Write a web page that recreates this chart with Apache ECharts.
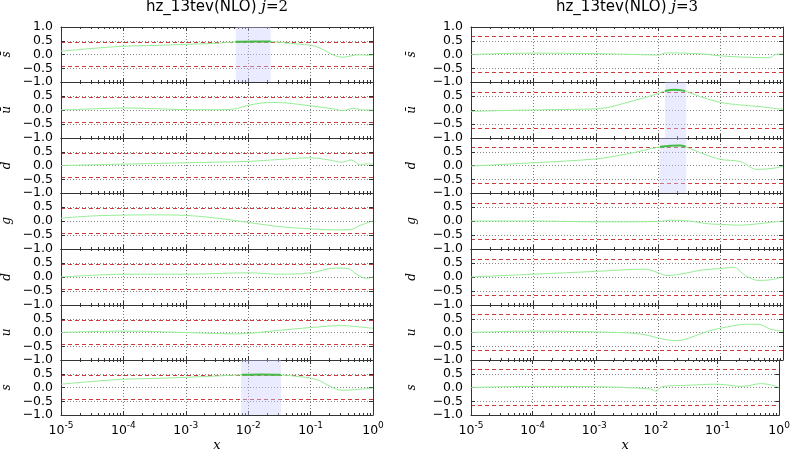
<!DOCTYPE html>
<html><head><meta charset="utf-8">
<script src="https://cdn.jsdelivr.net/npm/echarts@6/dist/echarts.min.js"></script>
<style>html,body{margin:0;padding:0;background:#fff}#c{width:793px;height:453px}</style>
</head><body><div id="c"></div>
<script>
// ---- data (x stored as log10(x)) ----
const flavours = ['s\u0304', 'u\u0304', 'd', 'g', 'd', 'u', 's'];
const yTickValues = [-1, -0.5, 0, 0.5, 1];
const xDecades = [-5, -4, -3, -2, -1, 0];
const jValues = ['2', '3'];
const bandJ2 = 0.44;
const bandJ3 = 0.65;

const sbarJ2 = [[-5,0.12],[-4.5,0.22],[-4,0.30],[-3.5,0.33],[-3,0.37],[-2.5,0.41],[-2.2,0.46],[-1.9,0.47],[-1.64,0.47],[-1.4,0.42],[-1.2,0.38],[-1.0,0.34],[-0.85,0.24],[-0.72,0.08],[-0.6,-0.05],[-0.48,-0.1],[-0.38,-0.06],[-0.28,-0.02],[-0.18,-0.01],[-0.08,-0.03],[0,-0.02]];
const ubarJ2 = [[-5,0.0],[-4.5,0.04],[-4,0.07],[-3.5,0.05],[-3,0.01],[-2.5,0.01],[-2.24,0.03],[-1.97,0.18],[-1.65,0.27],[-1.38,0.25],[-1.01,0.15],[-0.64,0.04],[-0.48,-0.02],[-0.32,0.06],[-0.16,0.0],[0,0.0]];
const dbarJ2 = [[-5,0.0],[-4,0.05],[-3,0.1],[-2,0.15],[-1.5,0.22],[-1,0.28],[-0.7,0.2],[-0.5,0.12],[-0.35,0.2],[-0.2,0.02],[-0.1,0.06],[0,0.05]];
const gJ2 = [[-5,0.1],[-4.5,0.18],[-4,0.21],[-3.5,0.22],[-3,0.2],[-2.5,0.1],[-2,-0.05],[-1.5,-0.2],[-1,-0.28],[-0.6,-0.32],[-0.35,-0.3],[-0.2,-0.15],[0,0.0]];
const dJ2 = [[-5,0.0],[-4.5,0.06],[-4,0.1],[-3,0.1],[-2,0.15],[-1.5,0.1],[-1,0.15],[-0.6,0.32],[-0.4,0.3],[-0.25,0.08],[-0.1,-0.05],[0,0.0]];
const uJ2 = [[-5,0.0],[-4,0.05],[-3,0.0],[-2.2,-0.05],[-1.5,0.08],[-1,0.18],[-0.5,0.25],[-0.2,0.2],[0,0.15]];
const sJ2 = [[-5,0.12],[-4.5,0.22],[-4,0.30],[-3.5,0.33],[-3,0.37],[-2.5,0.42],[-2.1,0.46],[-1.8,0.47],[-1.48,0.46],[-1.2,0.4],[-1.0,0.34],[-0.85,0.24],[-0.72,0.08],[-0.6,-0.05],[-0.48,-0.1],[-0.3,-0.08],[-0.15,-0.05],[0,-0.02]];

const sbarJ3 = [[-5,0],[-4,0.05],[-3,0.03],[-2.2,-0.01],[-2,-0.02],[-1.87,0.06],[-1.6,0.05],[-1.3,0.02],[-1,-0.05],[-0.7,-0.09],[-0.4,-0.11],[-0.22,-0.12],[-0.12,0.0],[0,0.02]];
const ubarJ3 = [[-5,-0.05],[-4.5,-0.02],[-4,0.0],[-3.5,0.02],[-2.93,0.05],[-2.45,0.3],[-2.2,0.45],[-1.99,0.6],[-1.89,0.68],[-1.75,0.72],[-1.57,0.68],[-1.33,0.48],[-1.0,0.27],[-0.68,0.18],[-0.36,0.12],[-0.15,0.06],[0,0.03]];
const dbarJ3 = [[-5,-0.02],[-4,0.1],[-3,0.24],[-2.5,0.42],[-1.97,0.68],[-1.8,0.72],[-1.65,0.73],[-1.56,0.68],[-1.25,0.4],[-1.0,0.22],[-0.68,0.14],[-0.42,-0.14],[-0.15,-0.1],[0,-0.02]];
const gJ3 = [[-5,0],[-4,0.0],[-3,-0.03],[-2,-0.02],[-1.8,0.03],[-1.5,0.0],[-1.2,-0.1],[-1,-0.12],[-0.7,-0.15],[-0.4,-0.1],[-0.2,-0.05],[0,0]];
const dJ3 = [[-5,0],[-4,0.1],[-3,0.2],[-2.2,0.28],[-2,0.15],[-1.85,0.05],[-1.6,0.12],[-1.3,0.25],[-1,0.3],[-0.8,0.35],[-0.6,0.05],[-0.4,-0.12],[-0.2,-0.1],[0,0]];
const uJ3 = [[-5,0],[-4,0.05],[-3,0.02],[-2.3,-0.05],[-1.9,-0.25],[-1.7,-0.3],[-1.5,-0.2],[-1.2,0.05],[-0.9,0.2],[-0.6,0.3],[-0.4,0.3],[-0.2,0.12],[0,0.05]];
const sJ3 = [[-5,0],[-4,0.04],[-3,0.03],[-2.1,-0.05],[-2.0,-0.13],[-1.9,0.03],[-1.5,0.08],[-1,0.12],[-0.6,0.04],[-0.3,0.14],[-0.15,0.1],[0,0]];

const shadeJ2 = [[-2.2,-1.64], null, null, null, null, null, [-2.115,-1.474]];
const shadeJ3 = [null, [-1.89,-1.55], [-1.98,-1.55], null, null, null, null];

// ---- layout ----
const TOP = 26.7, H = 55.57, W = 312;
const minorTicks = [];
for (let n = -5; n < 0; n++) for (let k = 2; k <= 9; k++) minorTicks.push(n + Math.log10(k));

const cols = [
  {curves:[sbarJ2,ubarJ2,dbarJ2,gJ2,dJ2,uJ2,sJ2], shades:shadeJ2, band:bandJ2, left:61, j:jValues[0], nameGap:48},
  {curves:[sbarJ3,ubarJ3,dbarJ3,gJ3,dJ3,uJ3,sJ3], shades:shadeJ3, band:bandJ3, left:471, j:jValues[1], nameGap:53}
];
const AX = '#333';
const grids = [], xAxes = [], yAxes = [], series = [], titles = [];
const fmtY = (v, r) => {
  if (v === 1 && r > 0) return '';
  const s = Math.abs(v).toFixed(1);
  return (v < 0 ? '\u2212' : '') + s;
};
cols.forEach((col, ci) => {
  titles.push({
    text: '{a|hz_13tev(NLO) }{b|j}{c|=' + col.j + '}',
    left: col.left + W / 2, top: 0, textAlign: 'center', padding: 0,
    textStyle: { fontWeight: 'normal', rich: {
      a: {fontFamily: 'DejaVu Sans', fontSize: 15, fontWeight: 'normal', color: '#000'},
      b: {fontFamily: 'DejaVu Serif', fontStyle: 'italic', fontWeight: 'normal', fontSize: 15, color: '#000'},
      c: {fontFamily: 'DejaVu Serif', fontSize: 15, fontWeight: 'normal', color: '#000'}
    }}
  });
  for (let r = 0; r < 7; r++) {
    const g = grids.length;
    const last = r === 6;
    const top = Math.round(TOP + r * H);
    const bottom = Math.round(TOP + (r + 1) * H);
    grids.push({left: col.left, top: top, width: W, height: bottom - top});
    const base = {gridIndex: g, type: 'value', min: -5, max: 0};
    xAxes.push(Object.assign({}, base, {
      interval: 1, position: 'bottom',
      axisLine: {show: true, onZero: false, lineStyle: {color: AX, width: 1}},
      axisTick: {show: true, inside: true, length: 4, lineStyle: {color: AX}},
      axisLabel: {show: last, margin: 6, formatter: v => '{b|10}{s|' + v + '}',
        rich: {
          b: {fontFamily: 'DejaVu Sans', fontSize: 12.5, color: '#000', verticalAlign: 'bottom'},
          s: {fontFamily: 'DejaVu Sans', fontSize: 9, color: '#000', verticalAlign: 'bottom', padding: [0, 0, 7, 0]}
        }},
      splitLine: {show: true, lineStyle: {type: [1, 2], color: '#555', width: 0.8}},
      name: last ? 'x' : '', nameLocation: 'middle', nameGap: 24,
      nameTextStyle: {fontFamily: 'DejaVu Serif', fontStyle: 'italic', fontSize: 13, color: '#000'}
    }));
    xAxes.push(Object.assign({}, base, {
      position: 'bottom', axisLine: {show: false, onZero: false},
      axisTick: {show: true, inside: true, length: 2, customValues: minorTicks, lineStyle: {color: AX}},
      axisLabel: {show: false}, splitLine: {show: false}
    }));
    xAxes.push(Object.assign({}, base, {
      interval: 1, position: 'top',
      axisLine: {show: true, onZero: false, lineStyle: {color: AX, width: 1}},
      axisTick: {show: true, inside: true, length: 4, lineStyle: {color: AX}},
      axisLabel: {show: false}, splitLine: {show: false}
    }));
    xAxes.push(Object.assign({}, base, {
      position: 'top', axisLine: {show: false, onZero: false},
      axisTick: {show: true, inside: true, length: 2, customValues: minorTicks, lineStyle: {color: AX}},
      axisLabel: {show: false}, splitLine: {show: false}
    }));
    yAxes.push({
      gridIndex: g, type: 'value', min: -1, max: 1, interval: 0.5, position: 'left',
      axisLine: {show: true, onZero: false, lineStyle: {color: AX, width: 1}},
      axisTick: {show: true, inside: true, length: 4, lineStyle: {color: AX}},
      axisLabel: {show: true, margin: 8, fontFamily: 'DejaVu Sans', fontSize: 12.5, color: '#000',
        formatter: v => fmtY(v, r)},
      splitLine: {show: true, lineStyle: {type: [1, 2], color: '#666', width: 0.8}},
      name: flavours[r], nameLocation: 'middle', nameGap: col.nameGap, nameRotate: 90,
      nameTextStyle: {fontFamily: 'DejaVu Serif', fontStyle: 'italic', fontSize: 12, color: '#000'}
    });
    yAxes.push({
      gridIndex: g, type: 'value', min: -1, max: 1, interval: 0.5, position: 'right',
      axisLine: {show: true, onZero: false, lineStyle: {color: AX, width: 1}},
      axisTick: {show: true, inside: true, length: 4, lineStyle: {color: AX}},
      axisLabel: {show: false}, splitLine: {show: false}
    });
    // band lines (red dashed) via an extra axis' split lines at the band values
    yAxes.push({
      gridIndex: g, type: 'value', min: -1, max: 1, position: 'left',
      axisLine: {show: false, onZero: false},
      axisTick: {show: false, customValues: [-col.band, col.band]},
      axisLabel: {show: false, customValues: [-col.band, col.band]},
      splitLine: {show: true, lineStyle: {type: [4, 3], color: '#cc3a3a', width: 1.2}}
    });
    const curve = col.curves[r];
    const shade = col.shades[r];
    const s = {
      type: 'line', xAxisIndex: g * 4, yAxisIndex: g * 3, data: curve,
      smooth: 0.35, showSymbol: false, silent: true,
      lineStyle: {color: '#96ee96', width: 1}, z: 3
    };
    if (shade) {
      s.markArea = {silent: true, itemStyle: {color: 'rgba(205,205,255,0.4)'},
        data: [[{xAxis: shade[0]}, {xAxis: shade[1]}]]};
    }
    series.push(s);
    if (shade) {
      series.push({
        type: 'line', xAxisIndex: g * 4, yAxisIndex: g * 3, z: 4,
        data: curve.filter(p => p[0] >= shade[0] - 0.02 && p[0] <= shade[1] + 0.02),
        smooth: 0.35, showSymbol: false, silent: true,
        lineStyle: {color: '#44bb44', width: 2}
      });
    }
  }
});
const chart = echarts.init(document.getElementById('c'), null, {renderer: 'canvas'});
chart.setOption({
  animation: false, backgroundColor: '#fff',
  title: titles, grid: grids, xAxis: xAxes, yAxis: yAxes, series: series
});
</script></body></html>
